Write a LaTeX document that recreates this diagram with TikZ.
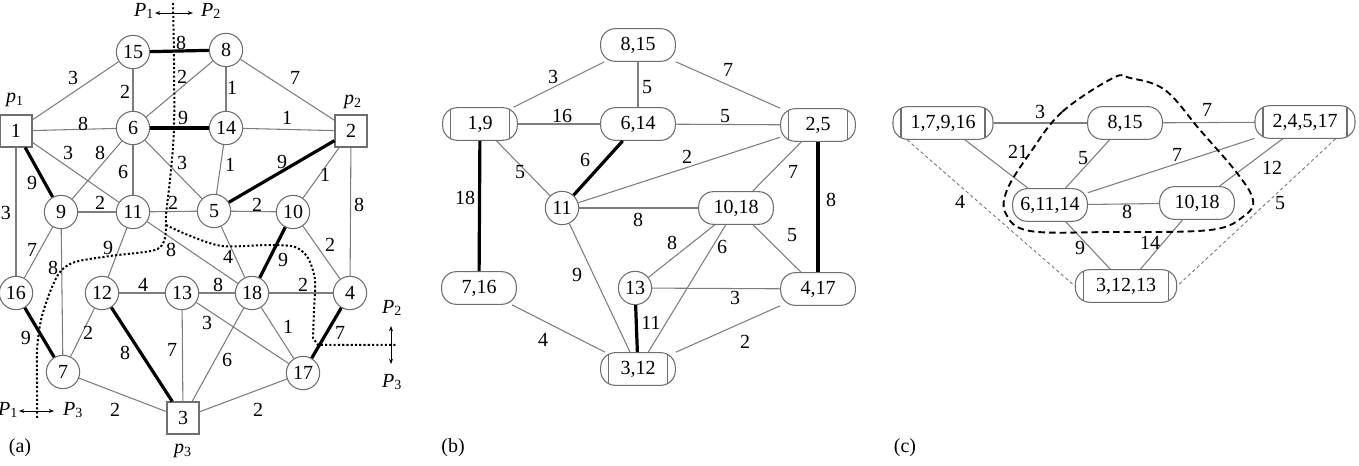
\documentclass[tikz,border=0pt]{standalone}
\usepackage{fontspec}
\setmainfont{Liberation Serif}
\usetikzlibrary{arrows.meta}
\definecolor{edgegray}{RGB}{125,125,125}
\definecolor{nodegray}{RGB}{110,110,110}
\begin{document}
\begin{tikzpicture}[x=0.75pt,y=-0.75pt,
  font=\fontsize{15}{17}\selectfont,
  e/.style={draw=edgegray, line width=0.8pt},
  te/.style={draw=black, line width=2.4pt},
  de/.style={draw=edgegray, line width=0.7pt, dash pattern=on 2.5pt off 2pt},
  cn/.style={circle, draw=nodegray, line width=0.8pt, minimum size=25pt, inner sep=0pt, fill=white},
  sq/.style={rectangle, draw=nodegray, line width=0.8pt, minimum size=24pt, inner sep=0pt, fill=white},
  pill/.style={rectangle, rounded corners=11pt, draw=nodegray, line width=0.8pt, minimum height=24.5pt, minimum width=56pt, inner sep=0pt, fill=white},
  barpill/.style={pill, path picture={\draw[nodegray, line width=0.8pt] ([xshift=6pt]path picture bounding box.south west) -- ([xshift=6pt]path picture bounding box.north west) ([xshift=-6pt]path picture bounding box.south east) -- ([xshift=-6pt]path picture bounding box.north east);}},
  lab/.style={inner sep=0pt},
  cut/.style={draw=black, line width=1.5pt, dash pattern=on 1.6pt off 1.6pt},
  loopcut/.style={draw=black, line width=1.4pt, dash pattern=on 5pt off 3pt},
  arr/.style={draw=black, line width=0.5pt, -{Stealth[length=4pt,width=3pt]}},
]
\useasboundingbox (0,0) rectangle (1359,466);

% ---------------- panel (a) ----------------
\node[sq] (a1) at (16,131) {1};
\node[sq] (a2) at (351,131) {2};
\node[sq] (a3) at (183,418) {3};
\node[cn] (a4) at (350,293) {4};
\node[cn] (a5) at (214,211) {5};
\node[cn] (a6) at (133,128) {6};
\node[cn] (a7) at (63,372) {7};
\node[cn] (a8) at (226,50) {8};
\node[cn] (a9) at (61,212) {9};
\node[cn] (a10) at (293,212) {10};
\node[cn] (a11) at (133,212) {11};
\node[cn] (a12) at (102,293) {12};
\node[cn] (a13) at (182,293) {13};
\node[cn] (a14) at (226,128) {14};
\node[cn] (a15) at (133,52) {15};
\node[cn] (a16) at (16,293) {16};
\node[cn] (a17) at (303,373) {17};
\node[cn] (a18) at (252,293) {18};

\node (p1) at (15,100) {\textit{p}\textsubscript{1}};
\node (p2) at (353,102) {\textit{p}\textsubscript{2}};
\node (p3) at (183,451) {\textit{p}\textsubscript{3}};
\node (la) at (20,448) {(a)};

\draw[e] (a1) -- (a15) node[lab] at (73,78) {3};
\draw[e] (a15) -- (a6) node[lab] at (125,92) {2};
\draw[e] (a8) -- (a6) node[lab] at (182,77) {2};
\draw[e] (a8) -- (a14) node[lab] at (232,88) {1};
\draw[e] (a8) -- (a2) node[lab] at (295,78) {7};
\draw[e] (a1) -- (a6) node[lab] at (83,124) {8};
\draw[e] (a14) -- (a2) node[lab] at (287,118) {1};
\draw[e] (a1) -- (a11) node[lab] at (68,153) {3};
\draw[e] (a6) -- (a9) node[lab] at (100,153) {8};
\draw[e] (a6) -- (a11) node[lab] at (123,172) {6};
\draw[e] (a6) -- (a5) node[lab] at (182,163) {3};
\draw[e] (a14) -- (a5) node[lab] at (230,165) {1};
\draw[e] (a2) -- (a10) node[lab] at (325,175) {1};
\draw[e] (a2) -- (a4) node[lab] at (359,205) {8};
\draw[e] (a1) -- (a16) node[lab] at (6,213) {3};
\draw[e] (a9) -- (a11) node[lab] at (100,203) {2};
\draw[e] (a11) -- (a5) node[lab] at (173,203) {2};
\draw[e] (a5) -- (a10) node[lab] at (257,205) {2};
\draw[e] (a9) -- (a16) node[lab] at (32,250) {7};
\draw[e] (a9) -- (a7) node[lab] at (53,268) {8};
\draw[e] (a11) -- (a12) node[lab] at (108,248) {9};
\draw[e] (a11) -- (a18) node[lab] at (171,250) {8};
\draw[e] (a5) -- (a18) node[lab] at (228,257) {4};
\draw[e] (a10) -- (a4) node[lab] at (330,245) {2};
\draw[e] (a12) -- (a7) node[lab] at (88,333) {2};
\draw[e] (a12) -- (a13) node[lab] at (143,285) {4};
\draw[e] (a13) -- (a18) node[lab] at (218,285) {8};
\draw[e] (a13) -- (a3) node[lab] at (172,350) {7};
\draw[e] (a13) -- (a17) node[lab] at (207,323) {3};
\draw[e] (a18) -- (a4) node[lab] at (303,285) {2};
\draw[e] (a18) -- (a17) node[lab] at (288,327) {1};
\draw[e] (a18) -- (a3) node[lab] at (227,360) {6};
\draw[e] (a7) -- (a3) node[lab] at (115,410) {2};
\draw[e] (a17) -- (a3) node[lab] at (258,410) {2};

\draw[te] (a15) -- (a8) node[lab] at (181,43) {8};
\draw[te] (a6) -- (a14) node[lab] at (183,118) {9};
\draw[te] (a1) -- (a9) node[lab] at (32,183) {9};
\draw[te] (a5) -- (a2) node[lab] at (282,162) {9};
\draw[te] (a10) -- (a18) node[lab] at (283,260) {9};
\draw[te] (a16) -- (a7) node[lab] at (26,338) {9};
\draw[te] (a12) -- (a3) node[lab] at (125,353) {8};
\draw[te] (a4) -- (a17) node[lab] at (340,333) {7};

% cut lines
\draw[cut] plot[smooth, tension=0.5] coordinates {(173,3) (174,60) (174,130) (170,180) (166,215) (165,238) (155,250) (110,256) (75,262) (60,272) (50,292) (41,320) (37,350) (37,380) (37,420)};
\draw[cut] plot[smooth, tension=0.5] coordinates {(166,225) (188,235) (222,246) (270,245) (295,247) (308,258) (315,280) (314,310) (313,338)} -- (318,345) -- (397,345);

\coordinate (ct) at (173,13);
\coordinate (ctl) at (155,13);
\coordinate (ctr) at (193,13);
\draw[arr] (ct) -- (ctl);
\draw[arr] (ct) -- (ctr);
\node (P1t) at (144,11) {\textit{P}\textsubscript{1}};
\node (P2t) at (211,11) {\textit{P}\textsubscript{2}};

\coordinate (cb) at (37,411);
\coordinate (cbl) at (19,411);
\coordinate (cbr) at (54,411);
\draw[arr] (cb) -- (cbl);
\draw[arr] (cb) -- (cbr);
\node (P1b) at (8,410) {\textit{P}\textsubscript{1}};
\node (P3b) at (73,410) {\textit{P}\textsubscript{3}};

\coordinate (cr) at (391,345);
\coordinate (cru) at (391,326);
\coordinate (crd) at (391,364);
\draw[arr] (cr) -- (cru);
\draw[arr] (cr) -- (crd);
\node (P2r) at (392,308) {\textit{P}\textsubscript{2}};
\node (P3r) at (392,382) {\textit{P}\textsubscript{3}};

% ---------------- panel (b) ----------------
\node[barpill] (b19) at (480,124) {1,9};
\node[pill] (b815) at (638,45) {8,15};
\node[pill] (b614) at (638,124) {6,14};
\node[barpill] (b25) at (818,125) {2,5};
\node[cn] (b11) at (562,208) {11};
\node[pill] (b1018) at (736,208) {10,18};
\node[pill] (b716) at (479,288) {7,16};
\node[cn] (b13) at (635,288) {13};
\node[pill] (b417) at (818,289) {4,17};
\node[barpill] (b312) at (638,369) {3,12};
\node (lb) at (453,448) {(b)};

\draw[e] (b19) -- (b815) node[lab] at (553,77) {3};
\draw[e] (b815) -- (b614) node[lab] at (647,87) {5};
\draw[e] (b815) -- (b25) node[lab] at (728,70) {7};
\draw[e] (b19) -- (b614) node[lab] at (562,116) {16};
\draw[e] (b614) -- (b25) node[lab] at (725,116) {5};
\draw[e] (b19) -- (b11) node[lab] at (520,172) {5};
\draw[e] (b11) -- (b25) node[lab] at (687,157) {2};
\draw[e] (b25) -- (b1018) node[lab] at (793,172) {7};
\draw[e] (b11) -- (b1018) node[lab] at (638,220) {8};
\draw[e] (b11) -- (b312) node[lab] at (577,275) {9};
\draw[e] (b1018) -- (b13) node[lab] at (672,243) {8};
\draw[e] (b1018) -- (b312) node[lab] at (722,247) {6};
\draw[e] (b1018) -- (b417) node[lab] at (792,235) {5};
\draw[e] (b13) -- (b417) node[lab] at (735,298) {3};
\draw[e] (b716) -- (b312) node[lab] at (543,340) {4};
\draw[e] (b312) -- (b417) node[lab] at (745,342) {2};

\draw[te] (b614) -- (b11) node[lab] at (585,160) {6};
\draw[te] (b25) -- (b417) node[lab] at (831,200) {8};
\draw[te] (b19) -- (b716) node[lab] at (465,198) {18};
\draw[te] (b13) -- (b312) node[lab] at (651,323) {11};

% ---------------- panel (c) ----------------
\node[barpill, minimum width=75pt] (c1) at (943,123) {1,7,9,16};
\node[pill] (c815) at (1125,123) {8,15};
\node[barpill, minimum width=75pt] (c2) at (1305,122) {2,4,5,17};
\node[pill] (c6) at (1050,205) {6,11,14};
\node[pill] (c1018) at (1197,203) {10,18};
\node[barpill, minimum width=76pt] (c3) at (1126,286) {3,12,13};
\node (lc) at (905,448) {(c)};

\draw[e] (c1) -- (c815) node[lab] at (1040,112) {3};
\draw[e] (c815) -- (c2) node[lab] at (1207,110) {7};
\draw[e] (c1) -- (c6) node[lab] at (1018,152) {21};
\draw[e] (c815) -- (c6) node[lab] at (1083,158) {5};
\draw[e] (c6) -- (c2) node[lab] at (1177,155) {7};
\draw[e] (c1018) -- (c2) node[lab] at (1272,168) {12};
\draw[e] (c6) -- (c1018) node[lab] at (1127,212) {8};
\draw[e] (c6) -- (c3) node[lab] at (1080,248) {9};
\draw[e] (c1018) -- (c3) node[lab] at (1150,243) {14};
\draw[de] ([xshift=11pt]c1.south west) -- (c3.west) node[lab] at (960,202) {4};
\draw[de] ([xshift=-15pt]c2.south east) -- (c3.east) node[lab] at (1280,203) {5};

\draw[loopcut] plot[smooth cycle, tension=0.6] coordinates {(1113,78) (1062,112) (1030,153) (1007,190) (1006,214) (1030,231) (1110,232) (1210,230) (1244,216) (1253,200) (1237,173) (1200,130) (1165,90) (1130,78)};

\end{tikzpicture}
\end{document}
